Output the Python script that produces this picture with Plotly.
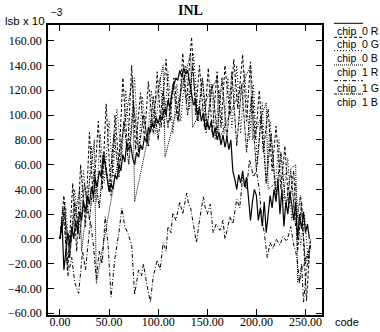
import plotly.graph_objects as go

# ---------------- data ----------------
codes_0R = list(range(0, 256, 2))
inl_0R = [0, 15, -25, -10, 5, -5, 10, 0, 15, 5,
          22, 15, 30, 22, 35, 28, 42, 35, 48, 42,
          55, 50, 68, 60, 50, 38, 45, 40, 52, 48,
          60, 55, 68, 62, 78, 72, 76, 65, 60, 70,
          66, 76, 72, 82, 78, 90, 86, 94, 90, 98,
          93, 100, 96, 105, 100, 112, 106, 118, 124, 130,
          128, 136, 131, 138, 133, 136, 126, 115, 108, 112,
          100, 106, 95, 102, 88, 95, 88, 95, 82, 90,
          80, 86, 76, 84, 74, 82, 72, 80, 55, 48,
          40, 52, 45, 55, 42, 50, 35, 15, 30, 40,
          35, 15, 25, 10, 30, 5, 20, 35, 25, 40,
          30, 48, 20, 40, 10, 30, 20, 38, 28, 15,
          30, 0, 20, 8, 22, 5, 12, 0]

codes_0G = [0, 4, 8, 13, 17, 21, 26, 30, 34, 39, 43, 47, 52, 56, 60, 64, 69, 73, 77, 82,
            86, 90, 95, 99, 103, 108, 112, 116, 121, 125, 129, 134, 138, 142, 147, 151, 155, 160, 164, 168,
            173, 177, 181, 186, 190, 194, 199, 203, 207, 212, 216, 220, 225, 229, 233, 238, 242, 246, 251, 255]
inl_0G = [0, 35, -25, 45, -10, 60, 10, 86, 30, 95, 40, 109, 35, 100, 60, 130, 70, 140, 72, 118,
          80, 127, 85, 135, 90, 145, 95, 130, 95, 150, 110, 163, 100, 140, 90, 138, 85, 135, 90, 140,
          100, 145, 105, 149, 95, 143, 80, 120, 70, 105, 55, 91, 40, 75, 25, 55, -10, 30, -50, 0]

codes_0B = [0, 6, 10, 15, 19, 24, 28, 32, 37, 41, 45, 50, 54, 58, 63, 67, 71, 76, 80, 84,
            89, 93, 97, 102, 106, 110, 115, 119, 123, 128, 132, 136, 141, 145, 149, 154, 158, 162, 167, 171,
            175, 180, 184, 188, 193, 197, 201, 206, 210, 214, 219, 223, 227, 232, 236, 240, 245, 249, 253, 255]
inl_0B = [0, 25, -15, 40, 5, 55, 20, 75, 30, 85, 45, 95, 50, 105, 65, 120, 75, 130, 70, 115,
          75, 120, 85, 130, 90, 135, 85, 125, 95, 140, 105, 150, 95, 130, 85, 125, 80, 120, 85, 130,
          90, 140, 85, 135, 80, 125, 60, 110, 45, 95, 40, 80, 30, 65, 15, 45, -5, 20, -20, 0]

codes_1R = [0, 5, 7, 20, 22, 35, 37, 74, 76, 105, 107, 133, 135, 160, 162, 194, 196, 210, 212, 240, 242, 255]
inl_1R = [0, 30, -20, 40, -10, 80, -36, 130, 30, 140, 66, 150, 90, 130, 80, 140, 80, 110, 40, 60, -35, -5]

codes_1G = [0, 3, 5, 8, 12, 15, 19, 23, 26, 31, 34, 37, 40, 43, 46, 49, 52, 56, 60, 63,
            66, 69, 73, 76, 80, 83, 85, 88, 92, 95, 99, 102, 105, 108, 110, 113, 115, 118, 122, 125,
            129, 131, 133, 136, 139, 142, 146, 148, 150, 153, 156, 159, 163, 166, 168, 171, 173, 176, 180, 183,
            186, 190, 193, 197, 200, 203, 205, 208, 211, 214, 217, 220, 224, 227, 231, 235, 238, 240, 242, 244,
            246, 248, 251, 253, 255]
inl_1G = [0, 25, 5, -30, -15, -35, -44, -10, -25, 15, -5, -32, -10, -20, 18, -5, -47, -15, 5, 25,
          10, 5, -5, -45, -25, -30, -20, -35, -51, -30, -17, -25, -3, -10, 10, 5, 21, 15, 30, 20,
          37, 28, 25, 10, -3, 15, 34, 25, 20, 28, 5, 12, 7, 15, 0, 10, 18, 12, 32, 25,
          50, 40, 64, 50, 55, 40, 20, 5, -15, -3, -8, 0, -5, 2, -2, 10, -5, -10, -20, -36,
          -20, -51, -25, -15, -6]

codes_1B = list(range(0, 256, 5))
inl_1B = [0, 20, -15, 30, 0, 45, 15, 55, 25, 70, 40, 85, 50, 95, 60, 110, 70, 100, 75, 115,
          80, 120, 90, 125, 95, 135, 100, 140, 95, 130, 90, 125, 85, 130, 80, 135, 75, 125, 70, 115,
          55, 100, 45, 85, 35, 70, 25, 55, 10, 35, -20, -5]

series_names = ["chip\u00a0\u00a00\u00a0R", "chip\u00a0\u00a00\u00a0G", "chip\u00a0\u00a00\u00a0B",
                "chip\u00a0\u00a01\u00a0R", "chip\u00a0\u00a01\u00a0G", "chip\u00a0\u00a01\u00a0B"]
y_ticks = [-60, -40, -20, 0, 20, 40, 60, 80, 100, 120, 140, 160]
x_ticks = [0, 50, 100, 150, 200, 250]

# ---------------- styles ----------------
dashes = ["solid", "3px,2px", "1px,2px", "1px,1px", "4px,2px,1px,2px", "3px,1px,1px,1px"]
widths = [1.2, 1, 1, 1, 1, 1]
series = [(codes_0R, inl_0R), (codes_0G, inl_0G), (codes_0B, inl_0B),
          (codes_1R, inl_1R), (codes_1G, inl_1G), (codes_1B, inl_1B)]

fig = go.Figure()
for (xs, ys), name, d, w in zip(series, series_names, dashes, widths):
    fig.add_trace(go.Scatter(x=xs, y=ys, mode="lines", name=name,
                             line=dict(color="black", width=w, dash=d)))

L, R, T, B = 48, 58, 25, 17
W, H = 380, 332
pw, ph = W - L - R, H - T - B

def px(x):
    return (x - L) / pw

def py(y):
    return (H - B - y) / ph

serif = "Liberation Serif, Times New Roman, serif"
sans = "Liberation Sans, Arial, sans-serif"

fig.update_layout(
    template="none",
    width=W, height=H,
    margin=dict(l=L, r=R, t=T, b=B, pad=0, autoexpand=False),
    paper_bgcolor="white", plot_bgcolor="white",
    showlegend=False,
    xaxis=dict(range=[-12.2, 266.8], tickvals=x_ticks, tickformat=".2f", automargin=False,
               ticks="inside", ticklen=6, tickwidth=1, tickcolor="black",
               showline=True, linecolor="black", linewidth=1.5, mirror="ticks",
               showgrid=False, zeroline=False, ticklabelstandoff=-5,
               tickfont=dict(family=serif, size=12, color="black")),
    yaxis=dict(range=[-61.4, 172.7], tickvals=y_ticks, tickformat=".2f", automargin=False,
               ticks="inside", ticklen=6, tickwidth=1, tickcolor="black",
               showline=True, linecolor="black", linewidth=1.5, mirror="ticks",
               showgrid=False, zeroline=False, ticklabelstandoff=2,
               tickfont=dict(family=serif, size=12, color="black")),
)

ann = [
    dict(x=px(190), y=py(10), text="<b>INL</b>", font=dict(family=serif, size=14, color="black")),
    dict(x=px(47), y=py(21), text="lsb x 10", xanchor="right", font=dict(family=sans, size=11.5, color="black")),
    dict(x=px(49), y=py(12), text="\u22123", xanchor="left", font=dict(family=sans, size=10, color="black")),
    dict(x=px(333), y=py(322), text="code", xanchor="left", font=dict(family=sans, size=11, color="black")),
]
line_y = [23.3, 37.3, 50.7, 65, 80.7, 94]
text_y = [31, 44.5, 58, 72, 88, 102]
shapes = []
for name, d, w, ly, ty in zip(series_names, dashes, widths, line_y, text_y):
    shapes.append(dict(type="line", xref="paper", yref="paper", x0=px(334), x1=px(363),
                       y0=py(ly), y1=py(ly), line=dict(color="black", width=1, dash=d)))
    ann.append(dict(x=px(335), y=py(ty), text=name, xanchor="left",
                    font=dict(family=sans, size=10.5, color="black")))
for a in ann:
    a.update(xref="paper", yref="paper", showarrow=False, yanchor="middle")
fig.update_layout(annotations=ann, shapes=shapes)

fig.write_html("out.html", config={"displayModeBar": False},
               post_script="document.body.style.margin='0';document.body.style.overflow='hidden';")
